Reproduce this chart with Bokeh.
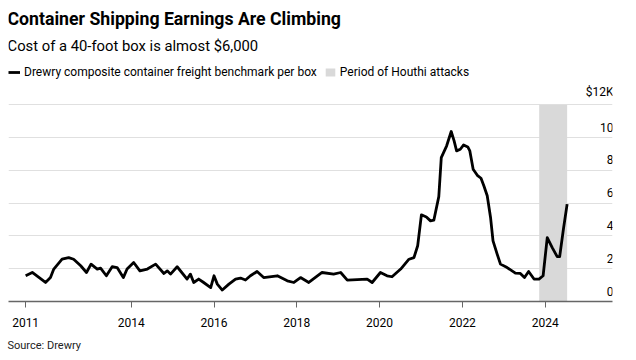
from bokeh.plotting import figure
from bokeh.models import Range1d, FixedTicker, Legend, LegendItem, Grid, Label, Title
from bokeh.core.properties import value
from bokeh.embed import file_html
from bokeh.resources import INLINE

# ---- data ----
years = [2011.45, 2011.61, 2011.93, 2012.05, 2012.13, 2012.33, 2012.49, 2012.61, 2012.78, 2012.92,
         2013.03, 2013.18, 2013.26, 2013.40, 2013.54, 2013.66, 2013.81, 2013.90, 2014.06, 2014.21,
         2014.39, 2014.59, 2014.79, 2014.87, 2014.95, 2015.11, 2015.35, 2015.43, 2015.51, 2015.63,
         2015.75, 2015.92, 2016.00, 2016.08, 2016.20, 2016.36, 2016.52, 2016.64, 2016.76, 2016.88,
         2017.04, 2017.20, 2017.53, 2017.77, 2017.93, 2018.09, 2018.29, 2018.61, 2018.89, 2019.06,
         2019.22, 2019.70, 2019.82, 2020.02, 2020.18, 2020.30, 2020.51, 2020.71, 2020.83, 2020.92,
         2021.01, 2021.13, 2021.23, 2021.31, 2021.43, 2021.49, 2021.62, 2021.73, 2021.80, 2021.86,
         2021.95, 2022.03, 2022.13, 2022.18, 2022.26, 2022.36, 2022.45, 2022.52, 2022.60, 2022.68,
         2022.74, 2022.84, 2022.92, 2023.08, 2023.28, 2023.40, 2023.50, 2023.60, 2023.73, 2023.85,
         2023.95, 2024.05, 2024.17, 2024.29, 2024.35, 2024.44, 2024.53]
freight_k = [1.57, 1.77, 1.16, 1.46, 1.98, 2.58, 2.68, 2.58, 2.18, 1.77,
             2.28, 1.98, 2.04, 1.57, 2.12, 2.07, 1.46, 1.98, 2.38, 1.87,
             1.98, 2.28, 1.71, 1.87, 1.67, 2.12, 1.37, 1.67, 1.16, 1.37,
             1.16, 0.85, 1.57, 1.06, 0.70, 1.06, 1.37, 1.43, 1.31, 1.57,
             1.83, 1.46, 1.57, 1.26, 1.16, 1.46, 1.16, 1.77, 1.67, 1.77,
             1.30, 1.37, 1.16, 1.77, 1.57, 1.51, 1.98, 2.58, 2.68, 3.40,
             5.29, 5.16, 4.92, 4.96, 6.40, 8.78, 9.50, 10.37, 9.80, 9.19,
             9.29, 9.55, 9.43, 9.19, 8.07, 7.70, 7.52, 7.05, 6.45, 5.13,
             3.70, 2.89, 2.28, 2.07, 1.73, 1.71, 1.46, 1.83, 1.37, 1.37,
             1.57, 3.90, 3.29, 2.74, 2.74, 4.41, 5.94]

houthi_start = [2023.855]
houthi_end = [2024.53]

tick_years = [2011.45, 2014, 2016, 2018, 2020, 2022, 2024]
tick_labels = ["2011", "2014", "2016", "2018", "2020", "2022", "2024"]
y_ticks = [0, 2, 4, 6, 8, 10, 12]
y_labels = ["0", "2", "4", "6", "8", "10", "$12K"]

title_text = "Container Shipping Earnings Are Climbing"
subtitle_text = "Cost of a 40-foot box is almost $6,000"
source_text = "Source: Drewry"
line_label = "Drewry composite container freight benchmark per box"
shade_label = "Period of Houthi attacks"

FONT = "Roboto"
X_END = 2025.626

p = figure(width=636, height=360, title=None,
           x_range=Range1d(2011.036, X_END), y_range=Range1d(0, 18.365),
           output_backend="svg", toolbar_location=None, y_axis_location=None,
           min_border_left=8, min_border_right=24, min_border_top=0, min_border_bottom=59)
p.outline_line_color = None
p.background_fill_color = "white"
p.border_fill_color = "white"
p.grid.visible = False

p.add_layout(Grid(dimension=1, ticker=FixedTicker(ticks=y_ticks[1:]),
                  grid_line_color="#e0e0e0", grid_line_width=1.2))

shade = p.quad(left=houthi_start, right=houthi_end, bottom=[0], top=[12],
               fill_color="#d9d9d9", line_color=None)
line = p.line(years, freight_k, line_color="black", line_width=2.8, line_join="round")

p.text(x=[X_END] * len(y_ticks), y=y_ticks, text=y_labels,
       text_align="right", text_baseline="bottom", y_offset=-6, x_offset=1,
       text_font=value(FONT), text_font_size="12px", text_color="#000000")

ax = p.xaxis[0]
ax.ticker = FixedTicker(ticks=tick_years)
ax.major_label_overrides = {t: l for t, l in zip(tick_years, tick_labels)}
ax.axis_line_color = "#666666"
ax.axis_line_width = 1.5
ax.major_tick_line_color = "#666666"
ax.major_tick_in = 0
ax.major_tick_out = 6
ax.minor_tick_line_color = None
ax.major_label_standoff = 10
ax.major_label_text_font = FONT
ax.major_label_text_font_size = "12px"
ax.major_label_text_color = "#000000"

legend = Legend(items=[LegendItem(label=line_label, renderers=[line]),
                       LegendItem(label=shade_label, renderers=[shade])],
                orientation="horizontal", location=(0, 222),
                label_text_font=FONT, label_text_font_size="12px", label_text_color="#000000",
                glyph_width=12, glyph_height=10, label_standoff=4, spacing=7,
                padding=0, margin=0, border_line_color=None, background_fill_alpha=0,
                label_height=14)
p.add_layout(legend)

p.add_layout(Label(x=-1, y=283, x_units="screen", y_units="screen", text=title_text,
                   text_font=FONT, text_font_size="17.7px", text_font_style="bold",
                   text_color="#000000", text_baseline="middle", text_align="left"))
p.add_layout(Label(x=-1, y=256, x_units="screen", y_units="screen", text=subtitle_text,
                   text_font=FONT, text_font_size="14.8px", text_font_style="normal",
                   text_color="#000000", text_baseline="middle", text_align="left"))
p.add_layout(Title(text=source_text, text_font=FONT, text_font_size="11px",
                   text_font_style="normal", text_color="#222222", align="left",
                   standoff=14, offset=-1), "below")

open("out.html", "w").write(file_html(p, INLINE))
